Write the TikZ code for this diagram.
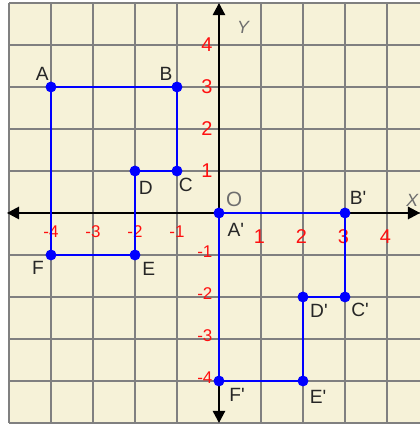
\documentclass[tikz,border=0pt]{standalone}
\usepackage{fontspec}
\setmainfont{Liberation Sans}[Ligatures=TeXOff]
\usetikzlibrary{arrows.meta,positioning}
\definecolor{paperc}{HTML}{F6F2D8}
\definecolor{gridc}{HTML}{808080}
\definecolor{shapec}{HTML}{0000FF}
\definecolor{tickc}{HTML}{FF1010}
\definecolor{axlc}{HTML}{6E6E6E}
\tikzset{
  >={Triangle[length=2.9mm,width=2.9mm]},
  gridln/.style={draw=gridc,line width=1.1pt},
  axis/.style={<->,line width=1.6pt,draw=black},
  dot/.style={circle,fill=shapec,inner sep=0pt,minimum size=2.6mm},
  edge/.style={draw=shapec,line width=1.3pt},
  ptl/.style={font=\fontsize{13}{15}\selectfont,text=black!85,inner sep=0pt},
  tickl/.style={font=\fontsize{13.5}{15}\selectfont,text=tickc,inner sep=0pt},
  ntickl/.style={tickl,font=\fontsize{11.5}{13}\selectfont},
  axl/.style={font=\itshape\fontsize{12}{14}\selectfont,text=axlc,inner sep=0pt},
}
\begin{document}
\begin{tikzpicture}
  \useasboundingbox (-5.214,-5.048) rectangle (4.786,5.071);
  % paper and grid
  \fill[paperc] (-5,-5) rectangle (4.786,5);
  \foreach \i in {-5,...,4}
    \draw[gridln] (\i,-5) -- (\i,5);
  \foreach \j in {-5,...,5}
    \draw[gridln] (-5,\j) -- (4.786,\j);
  % axes
  \coordinate (xl) at (-5.05,0);
  \coordinate (xr) at (4.79,0);
  \coordinate (yb) at (0,-5.0);
  \coordinate (yt) at (0,5.0);
  \draw[axis] (xl) -- (xr);
  \draw[axis] (yb) -- (yt);
  \node[axl] (lx) at (4.6,0.31) {X};
  \node[axl] (ly) at (0.57,4.43) {Y};
  \node[font=\fontsize{14}{15}\selectfont,text=axlc,inner sep=0pt] (lo) at (0.36,0.33) {O};
  % tick labels
  \foreach \i in {-4,...,-1}
    \node[ntickl] (tx\i) at (\i,-0.45) {\i};
  \foreach \i in {1,...,4}
    \node[tickl] (tx\i) at (\i-0.04,-0.57) {\i};
  \foreach \j in {1,...,4}
    \node[tickl] (ty\j) at (-0.29,\j) {\j};
  \foreach \j in {-4,...,-1}
    \node[ntickl,anchor=east] (ty\j) at (-0.15,\j+0.08) {\j};
  % points
  \foreach \n/\x/\y/\t/\dx/\dy in {A/-4/3/A/-0.21/0.31, B/-1/3/B/-0.26/0.31, C/-1/1/C/0.21/-0.33,
      D/-2/1/D/0.26/-0.40, E/-2/-1/E/0.33/-0.33, F/-4/-1/F/-0.31/-0.31,
      Ap/0/0/A'/0.40/-0.40, Bp/3/0/B'/0.31/0.36, Cp/3/-2/C'/0.36/-0.31,
      Dp/2/-2/D'/0.38/-0.33, Ep/2/-4/E'/0.36/-0.38, Fp/0/-4/F'/0.43/-0.33} {
    \node[dot] (\n) at (\x,\y) {};
    \node[ptl] (l\n) at (\x+\dx,\y+\dy) {\t};
  }
  % figure and its image
  \draw[edge] (A.center) -- (B.center) -- (C.center) -- (D.center) -- (E.center) -- (F.center) -- cycle;
  \draw[edge] (Ap.center) -- (Bp.center) -- (Cp.center) -- (Dp.center) -- (Ep.center) -- (Fp.center) -- cycle;
\end{tikzpicture}
\end{document}
